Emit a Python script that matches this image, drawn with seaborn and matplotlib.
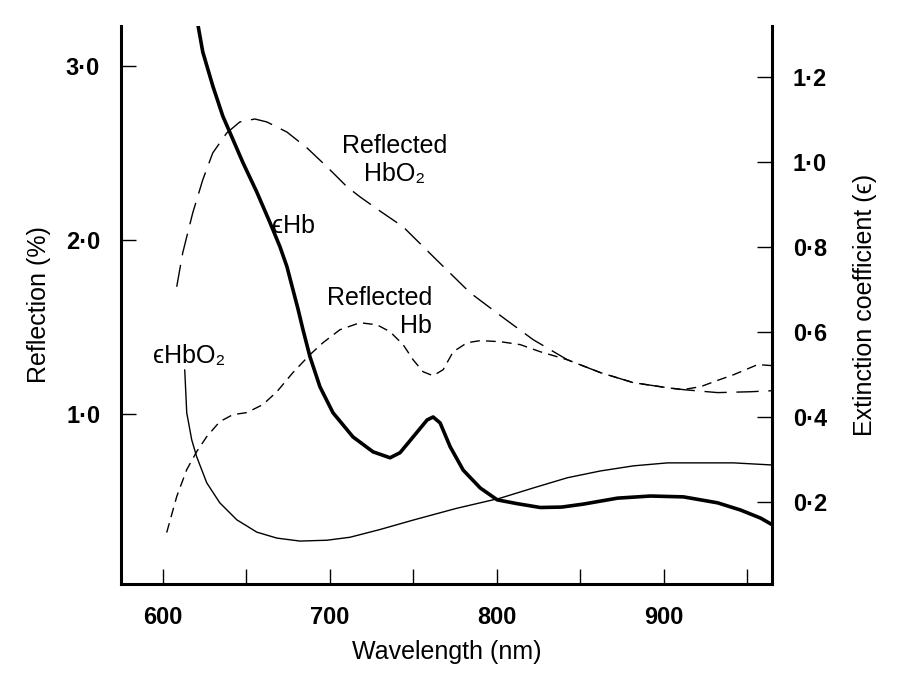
import matplotlib
matplotlib.use('Agg')
import matplotlib.pyplot as plt
import seaborn as sns

# Reflected HbO2, left axis (reflection %)
refl_hbo2_nm = [608.4, 612.0, 618.0, 624.0, 630.0, 638.4, 646.2, 655.2, 662.4, 674.4,
                686.4, 698.4, 710.4, 718.2, 731, 744, 764, 784.2, 804.0, 822.0, 842.4,
                862.2, 882.0, 902.4, 912.0, 932.4, 952.2, 965.3]
refl_hbo2 = [1.730, 1.925, 2.155, 2.345, 2.50, 2.615, 2.678, 2.695, 2.678, 2.62,
             2.529, 2.420, 2.305, 2.247, 2.16, 2.075, 1.885, 1.695, 1.552, 1.425, 1.310,
             1.236, 1.178, 1.149, 1.138, 1.121, 1.126, 1.132]

# Reflected Hb, left axis
refl_hb_nm = [602.4, 608.4, 614.4, 620.4, 626.4, 634.2, 642.0, 650.4, 660.0, 668.4,
              678.0, 688.2, 696.0, 706.2, 718.2, 728.4, 736.2, 744.0, 750.0, 756.0,
              762.0, 768.0, 774.0, 782.4, 790.2, 802.2, 814.2, 826.2, 842.4, 862.2,
              882.0, 902.4, 911.4, 922.2, 932.0, 942.0, 956.4, 965.3]
refl_hb = [0.316, 0.523, 0.678, 0.782, 0.868, 0.954, 0.994, 1.006, 1.052, 1.126,
           1.236, 1.339, 1.408, 1.483, 1.523, 1.511, 1.471, 1.397, 1.310, 1.241,
           1.218, 1.253, 1.356, 1.408, 1.420, 1.414, 1.397, 1.356, 1.310, 1.236,
           1.178, 1.149, 1.138, 1.155, 1.19, 1.224, 1.282, 1.276]

# Extinction coefficient Hb, right axis
eps_hb_nm = [617.5, 621.0, 624.0, 630.0, 636.0, 640.2, 648.0, 656.4, 664.2, 670.2,
             674.4, 678.0, 681.0, 684.0, 688.2, 694.2, 702.0, 714.0, 726.0, 736.2,
             742.2, 750.0, 758.4, 762.0, 766.2, 772.2, 780.0, 790.2, 800.4, 812.4,
             826.2, 839, 852.0, 872.4, 892.2, 912.0, 932.4, 946.2, 958.2, 965.3]
eps_hb = [1.40, 1.325, 1.259, 1.179, 1.108, 1.070, 0.999, 0.929, 0.858, 0.801,
          0.754, 0.70, 0.655, 0.606, 0.542, 0.471, 0.410, 0.353, 0.318, 0.304,
          0.316, 0.353, 0.393, 0.400, 0.386, 0.330, 0.275, 0.233, 0.205, 0.196,
          0.187, 0.188, 0.195, 0.209, 0.214, 0.212, 0.198, 0.181, 0.162, 0.146]

# Extinction coefficient HbO2, right axis
eps_hbo2_nm = [613.2, 614.4, 617.4, 620.4, 626.4, 634.2, 644.4, 656.4, 668.4, 682.2,
               698.4, 712.2, 730, 750.6, 776, 802.2, 822.0, 842.4, 862.2, 882.0,
               902.4, 922.2, 942.0, 965.3]
eps_hbo2 = [0.511, 0.410, 0.346, 0.306, 0.245, 0.198, 0.158, 0.129, 0.115, 0.108,
            0.110, 0.117, 0.135, 0.158, 0.185, 0.209, 0.233, 0.257, 0.273, 0.285,
            0.292, 0.292, 0.292, 0.287]

sns.set_style('ticks')
plt.rcParams['font.family'] = ['Liberation Sans', 'DejaVu Sans']
plt.rcParams.update({
    'axes.linewidth': 2.2,
    'axes.edgecolor': 'black',
    'text.color': 'black',
    'axes.labelcolor': 'black',
    'xtick.color': 'black',
    'ytick.color': 'black',
})

fig = plt.figure(figsize=(8.98, 6.84), dpi=100)
ax = fig.add_axes([0.1347, 0.1462, 0.7250, 0.8158])
ax2 = ax.twinx()

sns.lineplot(x=refl_hbo2_nm, y=refl_hbo2, ax=ax, color='black', lw=1.0,
             linestyle=(0, (16, 7)), estimator=None, errorbar=None)
sns.lineplot(x=refl_hb_nm, y=refl_hb, ax=ax, color='black', lw=1.0,
             linestyle=(0, (7, 4.5)), estimator=None, errorbar=None)
sns.lineplot(x=eps_hb_nm, y=eps_hb, ax=ax2, color='black', lw=2.6,
             estimator=None, errorbar=None)
sns.lineplot(x=eps_hbo2_nm, y=eps_hbo2, ax=ax2, color='black', lw=1.0,
             estimator=None, errorbar=None)

ax.set_xlim(575, 965)
ax.set_ylim(0.02, 3.23)
ax2.set_ylim(0.007, 1.32)

ax.set_xticks([600, 650, 700, 750, 800, 850, 900, 950],
              labels=['600', '', '700', '', '800', '', '900', ''])
ax.set_yticks([1, 2, 3], labels=['1·0', '2·0', '3·0'])
ax2.set_yticks([0.2, 0.4, 0.6, 0.8, 1.0, 1.2],
               labels=['0·2', '0·4', '0·6', '0·8', '1·0', '1·2'])

ax.tick_params(axis='both', direction='in', length=10.5, width=1.0,
               labelsize=17, pad=15)
ax.tick_params(axis='x', pad=16)
ax2.tick_params(axis='y', direction='in', length=10.5, width=1.0,
                labelsize=17, pad=15)
for lab in ax.get_xticklabels() + ax.get_yticklabels() + ax2.get_yticklabels():
    lab.set_fontweight('bold')

for a in (ax, ax2):
    a.spines['top'].set_visible(False)
ax.spines['right'].set_visible(False)
ax2.spines['left'].set_visible(False)
ax2.spines['bottom'].set_visible(False)

ax.set_xlabel('Wavelength (nm)', fontsize=18, labelpad=8)
ax.set_ylabel('Reflection (%)', fontsize=18, labelpad=11)
ax2.set_ylabel('Extinction coefficient (ϵ)', fontsize=18, labelpad=19)

fam = ['Liberation Sans', 'DejaVu Sans']
ax.text(739, 2.46, 'Reflected\nHbO₂', fontsize=18, ha='center', va='center',
        family=fam, linespacing=1.2)
ax.text(665.4, 2.08, 'ϵHb', fontsize=18, ha='left', va='center', family=fam)
ax.text(761.4, 1.586, 'Reflected\nHb', fontsize=18, ha='right', va='center',
        multialignment='right', family=fam, linespacing=1.2)
ax.text(594, 1.33, 'ϵHbO₂', fontsize=18, ha='left', va='center', family=fam)

fig.savefig('out.png', dpi=100)
